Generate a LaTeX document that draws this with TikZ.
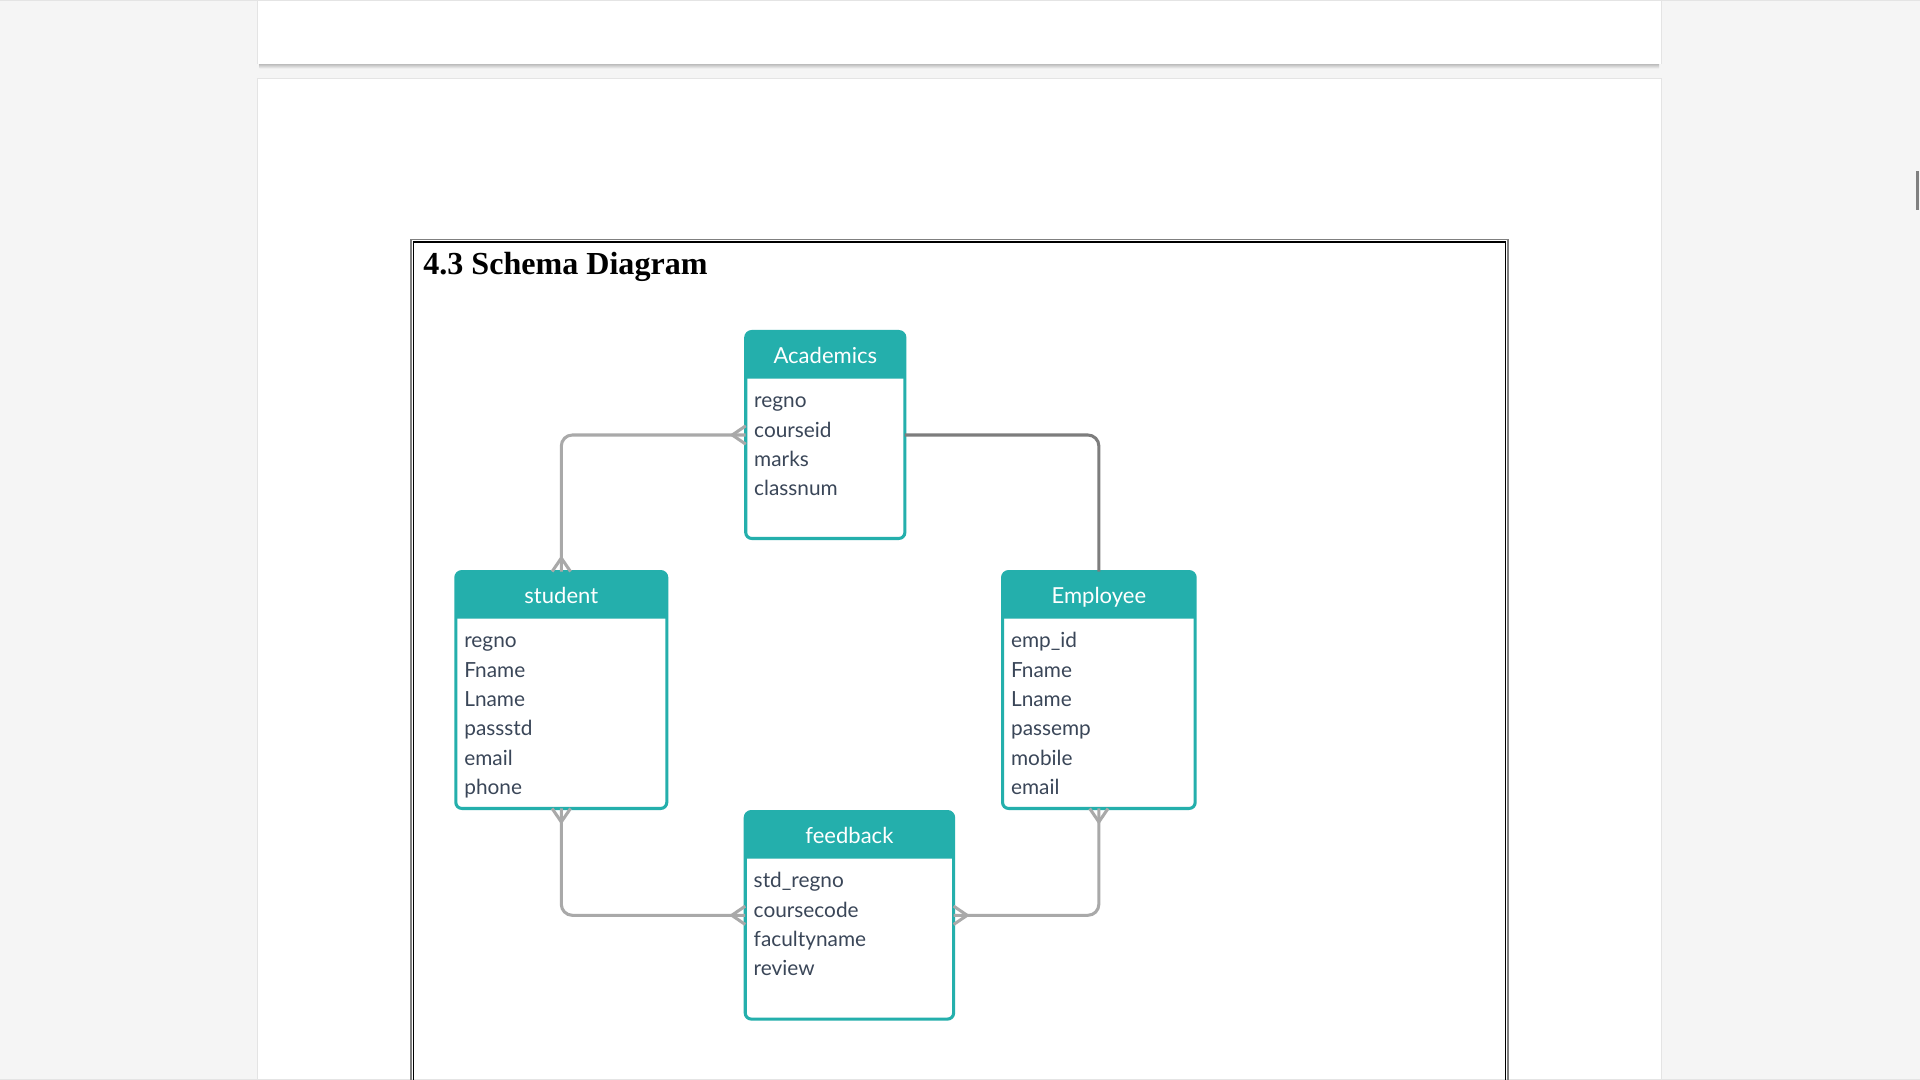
\documentclass[tikz,border=0pt]{standalone}
\usepackage{fontspec}
\newfontfamily\latofont{Lato}
\newfontfamily\titlefont{Liberation Serif}
\usetikzlibrary{calc}
\definecolor{tealc}{HTML}{24AFAC}
\definecolor{fieldc}{HTML}{3A4658}
\definecolor{connl}{HTML}{A9A9A9}
\definecolor{connd}{HTML}{7D7D7D}
\definecolor{bgc}{HTML}{F5F5F5}
\definecolor{pageedge}{HTML}{E4E4E4}

\newcommand{\erbox}[6]{%
  \node[erbox, minimum width=#3, minimum height=#4] (#1) at #2 {};
  \fill[tealc] ($(#1.north west)+(0,38.5)$) [rounded corners=5pt] -- (#1.north west) -- (#1.north east) [sharp corners] -- ($(#1.north east)+(0,38.5)$) -- cycle;
  \node[hdr] (#1-title) at ($(#1.north)+(0,26.2)$) {#5};
  \foreach \t [count=\i] in {#6} {
    \node[field] (#1-f\i) at ($(#1.north west)+(6.75,{62.25+24*(\i-1)})$) {\t};
  }
}

\begin{document}
\begin{tikzpicture}[x=1pt,y=-1pt,
  erbox/.style={draw=tealc, fill=white, line width=2.5pt, rounded corners=5pt, inner sep=0pt, outer sep=0pt},
  hdr/.style={anchor=base, text=white, font=\latofont\fontsize{18}{20}\selectfont, inner sep=0pt},
  field/.style={anchor=base west, text=fieldc, font=\latofont\fontsize{17}{20}\selectfont, inner sep=0pt},
  conn/.style={draw=connl, line width=2.5pt, rounded corners=9pt},
  conndark/.style={draw=connd, line width=2.5pt, rounded corners=9pt},
  crow/.style={draw=connl, line width=2.5pt}]

\useasboundingbox (0,0) rectangle (1568,882);
% window background and pages
\fill[bgc] (0,0) rectangle (1568,882);
\draw[pageedge, line width=1pt] (0,0.6) -- (1568,0.6);
\shade[top color=black!28, bottom color=bgc] (212,52) rectangle (1355,56);
\fill[white] (210,1.2) rectangle (1357,52);
\draw[pageedge, line width=0.8pt] (210,1.2) -- (210,52) (1357,1.2) -- (1357,52);
\fill[white] (210,64.5) rectangle (1357,882);
\draw[pageedge, line width=0.8pt] (210,882) -- (210,64.5) -- (1357,64.5) -- (1357,882);
\draw[pageedge, line width=1pt] (0,881.4) -- (1568,881.4);
% scrollbar thumb
\draw[black!50, line width=2pt] (1566,140) -- (1566,171.5);

% frame
\draw[black!50, line width=1.4pt] (335.5,882) -- (335.5,195.5) -- (1231.8,195.5) -- (1231.8,882);
\draw[black, line width=0.9pt] (337.6,882) -- (337.6,197.6) -- (1229.7,197.6) -- (1229.7,882);

\node[anchor=base west, inner sep=0pt, font=\titlefont\bfseries\fontsize{26.2}{28}\selectfont] (title) at (345.5,223.8) {4.3 Schema Diagram};

% entities
\erbox{aca}{(674,355.25)}{130pt}{169pt}{Academics}{regno,courseid,marks,classnum}
\erbox{stu}{(458.4,563.5)}{172.3pt}{193.5pt}{student}{regno,Fname,Lname,passstd,email,phone}
\erbox{emp}{(897.4,563.5)}{157.3pt}{193.5pt}{Employee}{emp\_id,Fname,Lname,passemp,mobile,email}
\erbox{fb}{(693.7,747.5)}{170.2pt}{169.5pt}{feedback}{std\_regno,coursecode,facultyname,review}

% connectors
\draw[conn] (stu.north) |- (aca.west);
\draw[conndark] (aca.east) -| (emp.north);
\draw[conn] (stu.south) |- (fb.west);
\draw[conn] (emp.south) |- (fb.east);

% crow's feet
\draw[crow] ($(aca.west)+(0,-7.5)$) -- ($(aca.west)+(-11,0)$) -- ($(aca.west)+(0,7.5)$);
\draw[crow] ($(stu.north)+(-7.5,0)$) -- ($(stu.north)+(0,-11)$) -- ($(stu.north)+(7.5,0)$);
\draw[crow] ($(stu.south)+(-7.5,0)$) -- ($(stu.south)+(0,11)$) -- ($(stu.south)+(7.5,0)$);
\draw[crow] ($(emp.south)+(-7.5,0)$) -- ($(emp.south)+(0,11)$) -- ($(emp.south)+(7.5,0)$);
\draw[crow] ($(fb.west)+(0,-7.5)$) -- ($(fb.west)+(-11,0)$) -- ($(fb.west)+(0,7.5)$);
\draw[crow] ($(fb.east)+(0,-7.5)$) -- ($(fb.east)+(11,0)$) -- ($(fb.east)+(0,7.5)$);
\end{tikzpicture}
\end{document}
